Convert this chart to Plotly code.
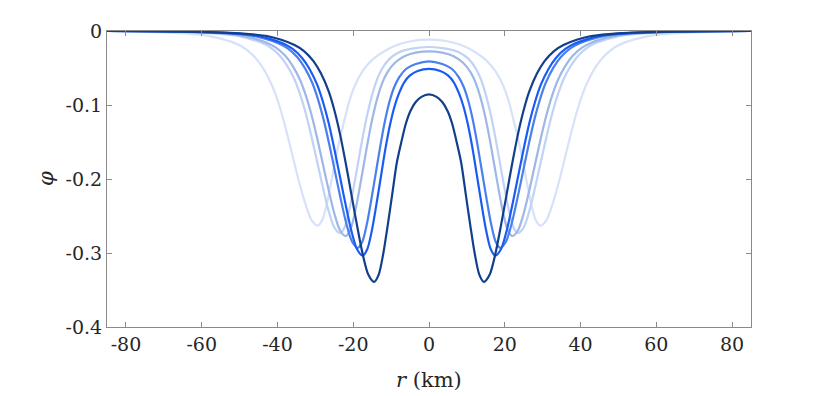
import plotly.graph_objects as go

# phi(r) for r <= 0; the profiles are symmetric in r,
# so the right half is the mirror of these points.
r_navy = [-85, -70, -60, -52.5, -47.5, -42.5, -39, -35.5, -33, -30.5, -28.5, -26.5, -25, -23.5,
          -22, -20.5, -19, -17.5, -16, -14.5, -13.3, -12.1, -10.9, -9.7, -8.5, -7.3, -6.1,
          -4.9, -3.5, -2, 0]
phi_navy = [0, -0.0005, -0.0012, -0.0024, -0.0041, -0.0071, -0.0119, -0.019, -0.0271, -0.0407,
            -0.0576, -0.0814, -0.1068, -0.139, -0.178, -0.2204, -0.2627, -0.3017, -0.3295, -0.339,
            -0.3295, -0.3017, -0.2627, -0.2204, -0.178, -0.150, -0.125, -0.108, -0.096, -0.089,
            -0.0857]

r_bright = [-85, -75, -65, -55.5, -50.5, -45.5, -42, -38.5, -36, -33.5, -31.5, -29.5, -28, -26.5,
            -25, -23.5, -22, -20.5, -19, -17.5, -16.3, -15.1, -13.9, -12.7, -11.5, -10.3, -9.1,
            -7.9, -6.5, -5, -3, 0]
phi_bright = [0, -0.0003, -0.0008, -0.0021, -0.0036, -0.0064, -0.0106, -0.017, -0.0243, -0.0364,
              -0.0516, -0.0728, -0.0956, -0.124, -0.159, -0.197, -0.235, -0.270, -0.295, -0.3035,
              -0.295, -0.270, -0.235, -0.197, -0.159, -0.127, -0.102, -0.084, -0.069, -0.060,
              -0.054, -0.0512]

r_mid = [-85, -76, -66, -56.8, -51.8, -46.8, -43.3, -39.8, -37.3, -34.8, -32.8, -30.8, -29.3,
         -27.8, -26.3, -24.8, -23.3, -21.8, -20.3, -18.8, -17.6, -16.4, -15.2, -14, -12.8, -11.6,
         -10.4, -9.2, -7.8, -6, -3.5, 0]
phi_mid = [0, -0.0003, -0.0008, -0.0021, -0.0035, -0.0062, -0.0103, -0.0164, -0.0234, -0.0352,
           -0.0498, -0.0703, -0.0923, -0.1201, -0.1538, -0.1905, -0.2271, -0.2608, -0.2848, -0.293,
           -0.2848, -0.2608, -0.2271, -0.1905, -0.1538, -0.121, -0.095, -0.076, -0.062, -0.051,
           -0.0445, -0.041]

r_steel = [-85, -78, -70, -60, -55, -50, -46.5, -43, -40.5, -38, -36, -34, -32.5, -31, -29.5,
           -28, -26.5, -25, -23.5, -22, -20.8, -19.6, -18.4, -17.2, -16, -14.8, -13.6, -12.4,
           -11, -9, -6.5, -3.5, 0]
phi_steel = [0, -0.0003, -0.0007, -0.0019, -0.0033, -0.0058, -0.0097, -0.0155, -0.0222, -0.0332,
             -0.0471, -0.0665, -0.0873, -0.1136, -0.1454, -0.180, -0.2147, -0.2465, -0.2692, -0.277,
             -0.2692, -0.2465, -0.2147, -0.180, -0.1454, -0.115, -0.090, -0.071, -0.056, -0.043,
             -0.034, -0.0292, -0.0274]

r_pale = [-85, -79, -71, -61.5, -56.5, -51.5, -48, -44.5, -42, -39.5, -37.5, -35.5, -34, -32.5,
          -31, -29.5, -28, -26.5, -25, -23.5, -22.3, -21.1, -19.9, -18.7, -17.5, -16.3, -15.1,
          -13.9, -12.5, -10.5, -8, -4.5, 0]
phi_pale = [0, -0.0002, -0.0007, -0.0019, -0.0033, -0.0057, -0.0096, -0.0153, -0.0218, -0.0328,
            -0.0464, -0.0655, -0.086, -0.1119, -0.1433, -0.1775, -0.2116, -0.243, -0.2654, -0.273,
            -0.2654, -0.243, -0.2116, -0.1775, -0.1433, -0.113, -0.088, -0.068, -0.052, -0.038,
            -0.029, -0.0238, -0.0216]

r_light = [-85, -77, -70.4, -65, -59.6, -55.9, -52.1, -49.4, -46.7, -44.5, -42.4, -40.7, -39.1,
           -37.5, -35.9, -34.3, -32.6, -31, -29.4, -28.2, -27, -25.8, -24.6, -23.4, -22.2, -21,
           -19.5, -17.5, -15, -12, -8.5, -4.5, 0]
phi_light = [0, -0.0007, -0.0018, -0.0032, -0.0055, -0.0092, -0.0147, -0.021, -0.0316, -0.0447,
             -0.0631, -0.0828, -0.1078, -0.1381, -0.171, -0.2038, -0.2341, -0.2556, -0.263,
             -0.2556, -0.2341, -0.2038, -0.171, -0.143, -0.118, -0.094, -0.073, -0.054, -0.039,
             -0.028, -0.019, -0.0135, -0.0117]

xtick_vals = [-80, -60, -40, -20, 0, 20, 40, 60, 80]
xtick_text = ['-80', '-60', '-40', '-20', '0', '20', '40', '60', '80']
ytick_vals = [0, -0.1, -0.2, -0.3, -0.4]
ytick_text = ['0', '-0.1', '-0.2', '-0.3', '-0.4']

curves = [
    (r_light, phi_light, '#d6e2f8'),
    (r_pale, phi_pale, '#c0d2f5'),
    (r_steel, phi_steel, '#9fb6e8'),
    (r_mid, phi_mid, '#4a80ee'),
    (r_bright, phi_bright, '#1a5cf2'),
    (r_navy, phi_navy, '#123f8c'),
]

fig = go.Figure()
for r_half, phi_half, col in curves:
    r = r_half + [-v for v in r_half[-2::-1]]
    phi = phi_half + phi_half[-2::-1]
    fig.add_trace(go.Scatter(x=r, y=phi, mode='lines',
                             line=dict(color=col, width=2.2, shape='spline', smoothing=0.8),
                             showlegend=False, hoverinfo='skip'))

serif = '"DejaVu Serif", serif'
txt = '#262626'
axis_common = dict(showline=True, linecolor='#8a8a8a', linewidth=1, mirror='ticks',
                   ticks='inside', ticklen=5, tickcolor='#8a8a8a', tickwidth=1,
                   showgrid=False, zeroline=False,
                   tickfont=dict(family=serif, size=19, color=txt))

fig.update_xaxes(range=[-85, 85], tickvals=xtick_vals, ticktext=xtick_text, **axis_common)
fig.update_yaxes(range=[-0.4, 0], tickvals=ytick_vals, ticktext=ytick_text, **axis_common)

# axis labels as annotations so the margins stay fixed
fig.add_annotation(text='<i>r</i> (km)', xref='paper', yref='paper', x=0.5, y=0,
                   xanchor='center', yanchor='middle', yshift=-53, showarrow=False,
                   font=dict(family=serif, size=21, color=txt))
fig.add_annotation(text='<i>φ</i>', xref='paper', yref='paper', x=0, y=0.5,
                   xanchor='center', yanchor='middle', xshift=-61, textangle=-90,
                   showarrow=False, font=dict(family=serif, size=21, color=txt))

# the page body adds an 8 px offset, so the figure is 8 px smaller each way
fig.update_layout(width=822, height=388,
                  margin=dict(l=99, r=79, t=21, b=69),
                  font=dict(family=serif, color=txt),
                  plot_bgcolor='white', paper_bgcolor='white')

fig.write_html("out.html")
